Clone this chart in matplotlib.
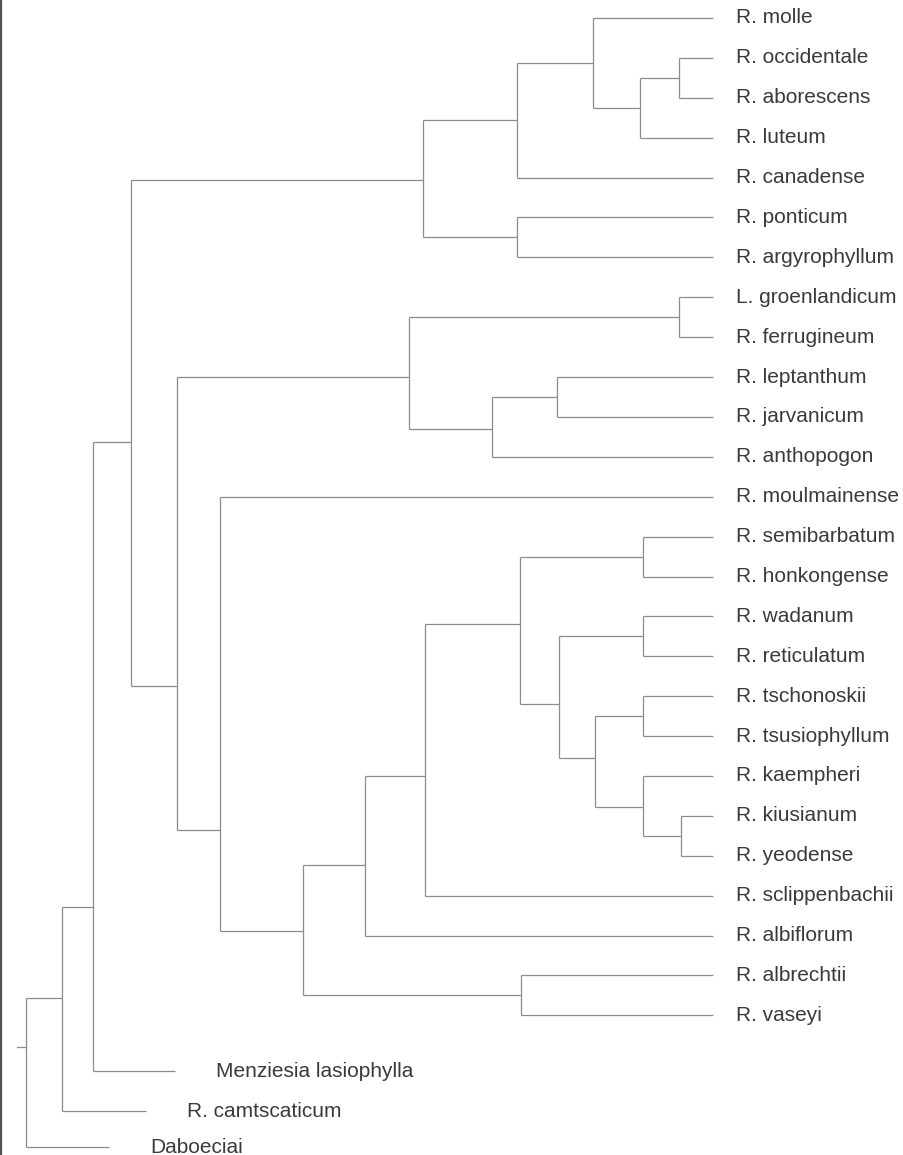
import matplotlib
matplotlib.use('Agg')
import matplotlib.pyplot as plt
from matplotlib.lines import Line2D

# leaves, top to bottom
leaf_names = ['R. molle', 'R. occidentale', 'R. aborescens', 'R. luteum', 'R. canadense',
              'R. ponticum', 'R. argyrophyllum', 'L. groenlandicum', 'R. ferrugineum',
              'R. leptanthum', 'R. jarvanicum', 'R. anthopogon', 'R. moulmainense',
              'R. semibarbatum', 'R. honkongense', 'R. wadanum', 'R. reticulatum',
              'R. tschonoskii', 'R. tsusiophyllum', 'R. kaempheri', 'R. kiusianum',
              'R. yeodense', 'R. sclippenbachii', 'R. albiflorum', 'R. albrechtii',
              'R. vaseyi', 'Menziesia lasiophylla', 'R. camtscaticum', 'Daboeciai']
leaf_rank = list(range(26)) + [26.4, 27.4, 28.3]
# distance where the leaf branch ends (outgroups are drawn short)
leaf_tip = [0.0] * 26 + [19.56, 20.62, 21.96]

# internal nodes (ids follow the leaves: 29, 30, ...)
node_left = [1, 29, 0, 31, 5, 32, 7, 9, 36, 35, 13, 15, 17, 20, 19, 41, 40, 39, 46, 47,
             24, 48, 12, 38, 34, 53, 54, 55]
node_right = [2, 3, 30, 4, 6, 33, 8, 10, 11, 37, 14, 16, 18, 21, 42, 43, 44, 45, 22, 23,
              25, 49, 50, 51, 52, 26, 27, 28]
node_dist = [1.24, 2.65, 4.36, 7.13, 7.13, 10.55, 1.24, 5.67, 8.04, 11.05, 2.55, 2.55,
             2.55, 1.16, 2.55, 4.29, 5.60, 7.02, 10.47, 12.65, 6.98, 14.91, 17.93, 19.49,
             21.16, 22.55, 23.67, 24.98]
node_anchor = [1.5, 2.25, 1.125, 2.56, 5.5, 4.06, 7.5, 9.5, 10.3, 9.0, 13.5, 15.5, 17.5,
               20.5, 19.77, 18.55, 17.19, 15.19, 19.0, 21.23, 24.5, 22.88, 20.35, 16.74,
               10.63, 22.28, 24.56, 25.79]
root_stub = 25.3

line_color = '#8c8c8c'
text_color = '#3a3a3a'
lw = 0.9

n_leaf = len(leaf_names)
anchor = list(leaf_rank) + list(node_anchor)
dist = list(leaf_tip) + list(node_dist)

fig = plt.figure(figsize=(9.04, 11.55), dpi=100)
ax = fig.add_axes([0, 0, 1, 1])

for i in range(len(node_dist)):
    d = node_dist[i]
    a, b = node_left[i], node_right[i]
    # vertical bar joining the two children
    ax.plot([d, d], [anchor[a], anchor[b]], color=line_color, lw=lw, solid_capstyle='butt')
    # horizontal branches to the children
    for c in (a, b):
        ax.plot([d, dist[c]], [anchor[c], anchor[c]], color=line_color, lw=lw,
                solid_capstyle='butt')

# root stub
ax.plot([root_stub, node_dist[-1]], [node_anchor[-1]] * 2, color=line_color, lw=lw)

for i, name in enumerate(leaf_names):
    gap = 16.5 if leaf_tip[i] == 0 else 29.5
    ax.annotate(name, (leaf_tip[i], leaf_rank[i]), xytext=(gap, 0.0),
                textcoords='offset points', ha='left', va='center',
                fontsize=15, color=text_color, family='Liberation Sans')

ax.set_xlim(25.93, -6.95)
ax.set_ylim(28.50, -0.451)
ax.axis('off')

# scanned page edge on the left
fig.add_artist(Line2D([0.0012, 0.0012], [0, 1], transform=fig.transFigure,
                      color='#505050', lw=1.6))

fig.savefig('out.png', dpi=100, facecolor='white')
